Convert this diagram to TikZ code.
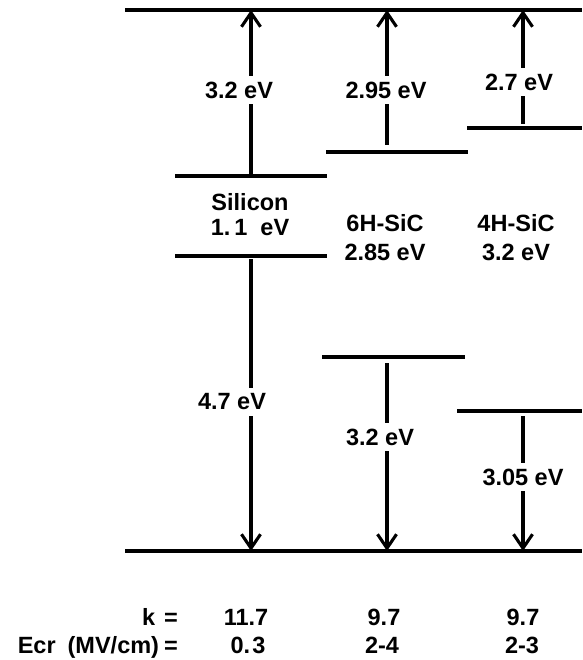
\documentclass[tikz,border=0pt]{standalone}
\usepackage{fontspec}
\setmainfont{Liberation Sans}
\usetikzlibrary{arrows.meta}
\tikzset{
    base/.style={font=\bfseries\fontsize{23.5}{27}\selectfont},
    level/.style={line width=3.1pt},
    gap/.style={line width=3.1pt, -{Straight Barb[length=14pt, width=19pt, line width=3.1pt]}},
    val/.style={base, fill=white, inner xsep=1pt, inner ysep=6pt},
    crystal/.style={base, align=center, inner sep=0pt},
    row/.style={base, inner sep=0pt, anchor=base}
}
\begin{document}
\begin{tikzpicture}[x=1pt, y=-1pt]
  \useasboundingbox (0,0) rectangle (582,660);

  % Band edges
  \coordinate (vacL) at (125,10);  \coordinate (vacR) at (582,10);
  \coordinate (refL) at (125,551); \coordinate (refR) at (582,551);
  \coordinate (siCL) at (175,176); \coordinate (siCR) at (327,176);
  \coordinate (siVL) at (175,256); \coordinate (siVR) at (327,256);
  \coordinate (sixCL) at (326,152); \coordinate (sixCR) at (468,152);
  \coordinate (sixVL) at (322,357); \coordinate (sixVR) at (465,357);
  \coordinate (fourCL) at (467,128); \coordinate (fourCR) at (582,128);
  \coordinate (fourVL) at (457,411); \coordinate (fourVR) at (582,411);

  \draw[level] (vacL) -- (vacR);
  \draw[level] (refL) -- (refR);
  \draw[level] (siCL) -- (siCR);
  \draw[level] (siVL) -- (siVR);
  \draw[level] (sixCL) -- (sixCR);
  \draw[level] (sixVL) -- (sixVR);
  \draw[level] (fourCL) -- (fourCR);
  \draw[level] (fourVL) -- (fourVR);

  % Arrow ends
  \coordinate (siUp) at (251,176);   \coordinate (siTop) at (251,10);
  \coordinate (siDn) at (251,259);   \coordinate (siBot) at (251,551);
  \coordinate (sixUp) at (387,145);  \coordinate (sixTop) at (387,10);
  \coordinate (sixDn) at (387,363);  \coordinate (sixBot) at (387,551);
  \coordinate (fourUp) at (523,124); \coordinate (fourTop) at (523,10);
  \coordinate (fourDn) at (523,416); \coordinate (fourBot) at (523,551);

  \draw[gap] (siUp) -- (siTop);
  \draw[gap] (siDn) -- (siBot);
  \draw[gap] (sixUp) -- (sixTop);
  \draw[gap] (sixDn) -- (sixBot);
  \draw[gap] (fourUp) -- (fourTop);
  \draw[gap] (fourDn) -- (fourBot);

  % Offsets
  \node[val] (siEa) at (239,90) {3.2 eV};
  \node[val] (siEb) at (232,402) {4.7 eV};
  \node[val] (sixEa) at (386,90) {2.95 eV};
  \node[val] (sixEb) at (380,437) {3.2 eV};
  \node[val] (fourEa) at (519,82) {2.7 eV};
  \node[val] (fourEb) at (523,477) {3.05 eV};

  % Crystals
  \node[crystal] (si) at (250,215) {Silicon\\[-2pt]1.\hspace{4pt}1\hspace{13pt}eV};
  \node[crystal] (six) at (385,238) {6H-SiC\\[2pt]2.85 eV};
  \node[crystal] (four) at (516,238) {4H-SiC\\[2pt]3.2 eV};

  % Table
  \node[row, anchor=base east] (kLbl) at (178,625) {k\hspace{9pt}=};
  \node[row, anchor=base east] (eLbl) at (178,653) {Ecr\hspace{12pt}(MV/cm)\hspace{5pt}=};
  \node[row] (kSi) at (246,625) {11.7};
  \node[row] (kSix) at (384,625) {9.7};
  \node[row] (kFour) at (523,625) {9.7};
  \node[row] (eSi) at (248,653) {0.\hspace{2pt}3};
  \node[row] (eSix) at (382,653) {2-4};
  \node[row] (eFour) at (522,653) {2-3};
\end{tikzpicture}
\end{document}
